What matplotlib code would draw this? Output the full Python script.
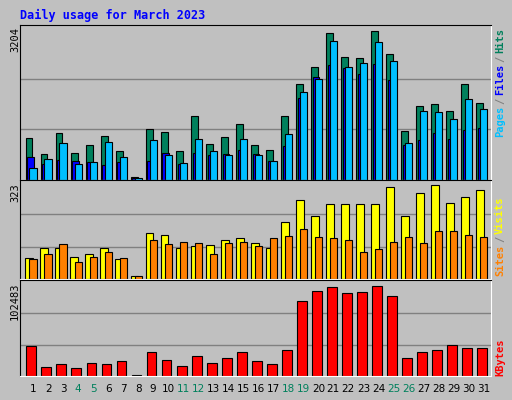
import numpy as np
import matplotlib
matplotlib.use("Agg")
import matplotlib.pyplot as plt

days = np.arange(1, 32)
weekend = [4, 5, 11, 12, 18, 19, 25, 26]

hits = [884, 548, 990, 562, 733, 925, 605, 57, 1075, 1011, 605, 1352, 755, 904, 1182, 733, 626, 1352, 2015, 2378, 3104, 2591, 2570, 3147, 2648, 1032, 1566, 1609, 1459, 2015, 1630]
files = [477, 327, 413, 392, 370, 306, 370, 43, 392, 563, 327, 563, 520, 541, 626, 541, 392, 712, 1737, 2164, 2421, 2357, 2229, 2442, 2108, 733, 840, 990, 861, 1054, 1096]
pages = [263, 434, 776, 327, 370, 797, 477, 50, 840, 520, 349, 861, 605, 520, 861, 520, 392, 968, 1865, 2122, 2933, 2378, 2463, 2912, 2506, 776, 1459, 1438, 1288, 1716, 1502]

visits = [69, 103, 103, 72, 82, 103, 66, 11, 154, 147, 103, 110, 113, 130, 137, 120, 103, 191, 262, 208, 249, 249, 249, 249, 306, 208, 287, 314, 252, 273, 297]
sites = [66, 82, 116, 55, 72, 89, 69, 11, 130, 116, 123, 120, 82, 120, 123, 110, 137, 144, 168, 140, 137, 130, 89, 99, 123, 140, 120, 161, 161, 147, 140]

kbytes = [33200, 9700, 12900, 8600, 14000, 12900, 16200, 1400, 25900, 17300, 10800, 21600, 14000, 19400, 25900, 16200, 12900, 28000, 81900, 92700, 97000, 90500, 91600, 98100, 87300, 19400, 26600, 28800, 34200, 30900, 30900]

BG = "#c0c0c0"
W, H = 512, 400
fig = plt.figure(figsize=(W / 100, H / 100), dpi=100)
fig.patch.set_facecolor(BG)


def panel(top, bottom, ymax):
    ax = fig.add_axes([20 / W, 1 - bottom / H, 471 / W, (bottom - top) / H])
    ax.set_facecolor(BG)
    ax.set_xlim(0.13, 31.5)
    ax.set_ylim(0, ymax * 1.02)
    for g in (ymax / 3, 2 * ymax / 3):
        ax.axhline(g, color="#808080", lw=1, zorder=0)
    ax.set_xticks([])
    ax.set_yticks([])
    for s in ax.spines.values():
        s.set_color("black")
    ax.spines["right"].set_color("white")
    ax.spines["bottom"].set_color("white")
    return ax


kw = dict(edgecolor="black", linewidth=0.8, align="edge")

ax1 = panel(25, 180, 3204)
ax1.bar(days - 0.49, hits, 0.45, color="#00805c", **kw)
ax1.bar(days - 0.38, files, 0.45, color="#0000ff", **kw)
ax1.bar(days - 0.24, pages, 0.48, color="#00bfff", **kw)

ax2 = panel(180, 279, 323)
ax2.bar(days - 0.51, visits, 0.53, color="#ffff00", **kw)
ax2.bar(days - 0.24, sites, 0.48, color="#ff8000", **kw)

ax3 = panel(280, 376, 102483)
ax3.bar(days - 0.44, kbytes, 0.66, color="#ff0000", **kw)

mono = "DejaVu Sans Mono"
fig.text(20 / W, 1 - 15 / H, "Daily usage for March 2023", color="#0000ff",
         family=mono, weight="bold", fontsize=8.5, va="center")
for y, lab in [(27, "3204"), (183, "323"), (283, "102483")]:
    fig.text(15 / W, 1 - y / H, lab, rotation=90, ha="center", va="top",
             family=mono, fontsize=7.5)

for d in days:
    x = 20 / W + (d - 0.13) / (31.5 - 0.13) * 471 / W
    fig.text(x, 1 - 389 / H, str(d), ha="center", va="center", fontsize=7.5,
             color="#00805c" if d in weekend else "black")

# right side legends
def vlegend(ybottom, parts):
    y = ybottom
    for txt, col in parts:
        t = fig.text(500 / W, 1 - y / H, txt, rotation=90, ha="center", va="bottom",
                     family=mono, weight="bold", fontsize=7.5, color=col)
        y -= len(txt) * 6.3 + 2

vlegend(137, [("Pages", "#00bfff"), ("/", "#808080"), ("Files", "#0000ff"),
              ("/", "#808080"), ("Hits", "#00805c")])
vlegend(276, [("Sites", "#ff8000"), ("/", "#808080"), ("Visits", "#ffff00")])
vlegend(376, [("KBytes", "#ff0000")])

fig.savefig("out.png", dpi=100, facecolor=BG)
